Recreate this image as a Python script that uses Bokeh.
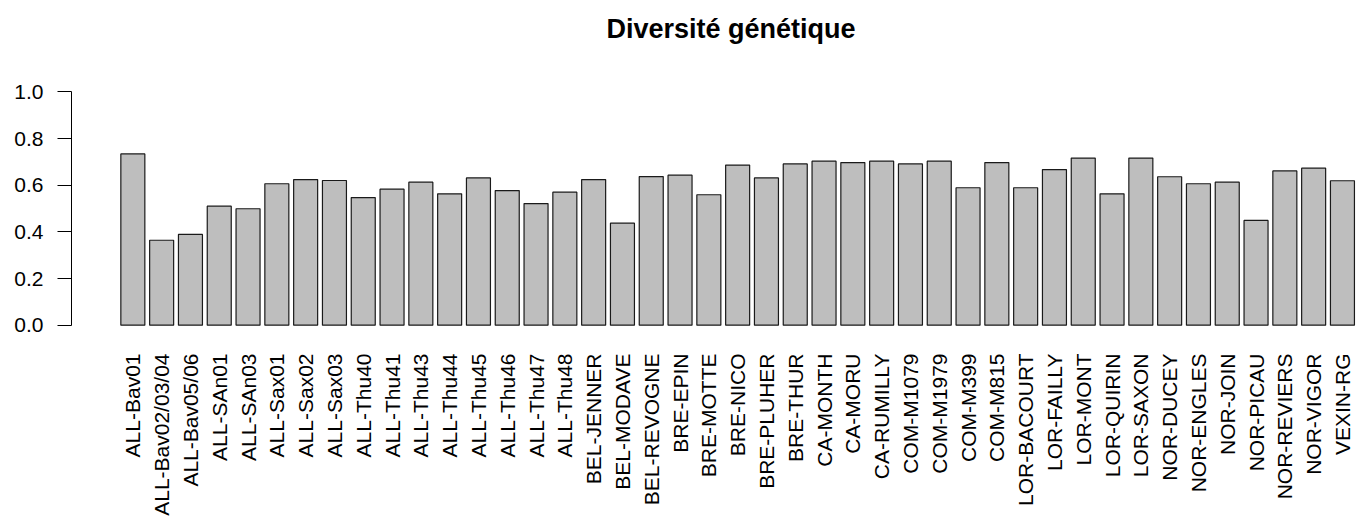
from bokeh.plotting import figure
from bokeh.models import FixedTicker, Range1d, ColumnDataSource, Label
from bokeh.embed import file_html
from bokeh.resources import INLINE
import math

categories = ["ALL-Bav01", "ALL-Bav02/03/04", "ALL-Bav05/06", "ALL-SAn01", "ALL-SAn03",
              "ALL-Sax01", "ALL-Sax02", "ALL-Sax03", "ALL-Thu40", "ALL-Thu41", "ALL-Thu43",
              "ALL-Thu44", "ALL-Thu45", "ALL-Thu46", "ALL-Thu47", "ALL-Thu48", "BEL-JENNER",
              "BEL-MODAVE", "BEL-REVOGNE", "BRE-EPIN", "BRE-MOTTE", "BRE-NICO", "BRE-PLUHER",
              "BRE-THUR", "CA-MONTH", "CA-MORU", "CA-RUMILLY", "COM-M1079", "COM-M1979",
              "COM-M399", "COM-M815", "LOR-BACOURT", "LOR-FAILLY", "LOR-MONT", "LOR-QUIRIN",
              "LOR-SAXON", "NOR-DUCEY", "NOR-ENGLES", "NOR-JOIN", "NOR-PICAU", "NOR-REVIERS",
              "NOR-VIGOR", "VEXIN-RG"]

diversite = [0.734, 0.364, 0.389, 0.510, 0.499, 0.606, 0.624, 0.620, 0.547, 0.583, 0.613,
             0.563, 0.631, 0.577, 0.521, 0.570, 0.624, 0.437, 0.637, 0.643, 0.559, 0.686,
             0.631, 0.691, 0.703, 0.697, 0.703, 0.691, 0.703, 0.589, 0.697, 0.589, 0.667,
             0.716, 0.563, 0.716, 0.636, 0.606, 0.613, 0.449, 0.661, 0.673, 0.619]

y_ticks = [0.0, 0.2, 0.4, 0.6, 0.8, 1.0]
title_text = "Diversité génétique"

# R barplot layout: width 1, space 0.2
centers = [0.7 + 1.2 * i for i in range(len(categories))]
src = ColumnDataSource(dict(x=centers, top=diversite))

FONT = "Liberation Sans"
UNIT = 24.0          # px per x unit
YUNIT = 252 / 1.08   # px per y unit
LEFT = 71
TOP = 82
W = 1359
FRAME_W = W - LEFT
FRAME_H = 252 + TOP
x_start = 0.2 - 0.04 * 51.4
y_end = 1.04 + TOP / YUNIT

p = figure(width=W, height=517, output_backend="svg", toolbar_location=None,
           x_range=Range1d(x_start, x_start + FRAME_W / UNIT),
           y_range=Range1d(-0.04, y_end),
           min_border_left=LEFT, min_border_right=0, min_border_top=0, min_border_bottom=183)
p.frame_width = FRAME_W
p.frame_height = FRAME_H

p.vbar(x="x", top="top", bottom=0, width=1.0, source=src,
       fill_color="#BEBEBE", line_color="#1a1a1a", line_width=1.2)

p.outline_line_color = None
p.xgrid.visible = False
p.ygrid.visible = False
p.background_fill_color = "white"
p.border_fill_color = "white"

# title placed inside the (extended) frame
title_x = x_start + (730.5 - LEFT) / UNIT
title_y = y_end - 28 / YUNIT
p.add_layout(Label(x=title_x, y=title_y, text=title_text, text_align="center",
                   text_baseline="alphabetic", text_font=FONT, text_font_size="27px",
                   text_font_style="bold", text_color="black"))

# y axis
ya = p.yaxis[0]
ya.ticker = FixedTicker(ticks=y_ticks)
ya.major_label_overrides = {t: f"{t:.1f}" for t in y_ticks}
ya.bounds = (0, 1)
ya.minor_tick_line_color = None
ya.major_tick_in = 0
ya.major_tick_out = 14
ya.major_label_standoff = 14
ya.major_label_text_font = FONT
ya.major_label_text_font_size = "21px"
ya.major_label_text_color = "black"
ya.axis_line_color = "black"
ya.major_tick_line_color = "black"

# x axis (labels only)
xa = p.xaxis[0]
xa.ticker = FixedTicker(ticks=centers)
xa.major_label_overrides = {c: lab for c, lab in zip(centers, categories)}
xa.major_label_orientation = math.pi / 2
xa.axis_line_color = None
xa.major_tick_line_color = None
xa.minor_tick_line_color = None
xa.major_tick_in = 0
xa.major_tick_out = 0
xa.major_label_standoff = 19
xa.major_label_text_font = FONT
xa.major_label_text_font_size = "21px"
xa.major_label_text_color = "black"

open("out.html", "w").write(file_html(p, INLINE))
